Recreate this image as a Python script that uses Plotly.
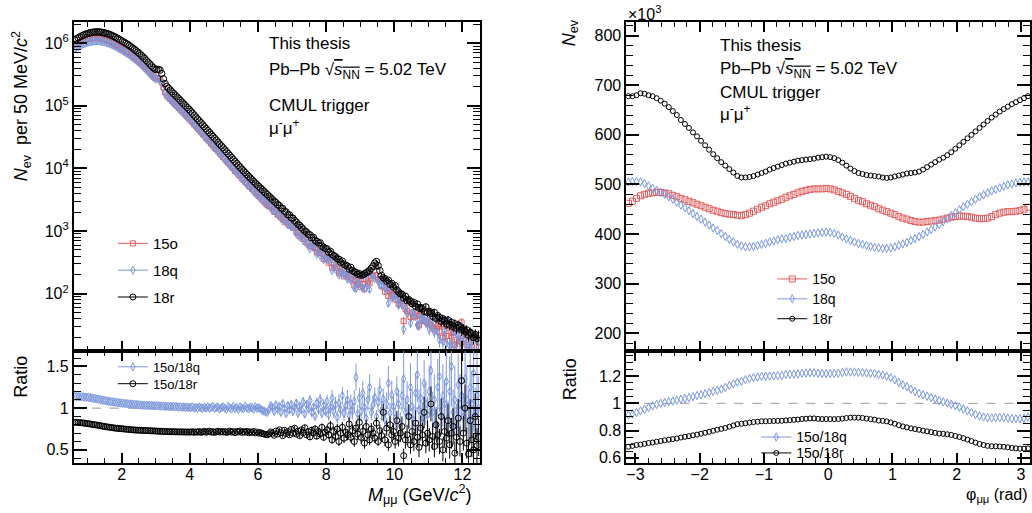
import numpy as np
import plotly.graph_objects as go

# ---------------- invariant mass (50 MeV/c2 bins, 0.6 - 12.5 GeV/c2) ----------------
n_mass_bins = 238
mass = np.round(0.625 + 0.05 * np.arange(n_mass_bins), 3)

# log10 of 18r counts per bin
n18r_log10 = [
    6.050, 6.068, 6.085, 6.100, 6.114, 6.127, 6.139, 6.149,
    6.158, 6.165, 6.171, 6.176, 6.179, 6.180, 6.179, 6.177, 6.173, 6.167,
    6.160, 6.152, 6.143, 6.132, 6.120, 6.107, 6.093, 6.078, 6.063, 6.047,
    6.031, 6.015, 5.998, 5.980, 5.961, 5.942, 5.922, 5.901, 5.879, 5.856,
    5.832, 5.807, 5.781, 5.754, 5.726, 5.697, 5.668, 5.638, 5.610, 5.588,
    5.578, 5.582, 5.570, 5.515, 5.430, 5.355, 5.310, 5.280, 5.252, 5.224,
    5.196, 5.168, 5.140, 5.113, 5.085, 5.057, 5.029, 5.001, 4.973, 4.945,
    4.914, 4.883, 4.852, 4.821, 4.790, 4.760, 4.729, 4.698, 4.667, 4.636,
    4.605, 4.575, 4.544, 4.513, 4.482, 4.452, 4.421, 4.390, 4.360, 4.330,
    4.298, 4.267, 4.236, 4.205, 4.174, 4.143, 4.112, 4.081, 4.050, 4.020,
    3.990, 3.961, 3.932, 3.903, 3.875, 3.847, 3.819, 3.792, 3.765, 3.738,
    3.712, 3.686, 3.660, 3.634, 3.608, 3.582, 3.556, 3.530, 3.504, 3.478,
    3.455, 3.421, 3.408, 3.368, 3.360, 3.318, 3.305, 3.262, 3.258, 3.214,
    3.205, 3.168, 3.142, 3.110, 3.090, 3.058, 3.030, 3.000, 2.985, 2.948,
    2.940, 2.895, 2.900, 2.852, 2.835, 2.810, 2.812, 2.760, 2.742, 2.725,
    2.715, 2.662, 2.675, 2.628, 2.605, 2.592, 2.560, 2.548, 2.505, 2.520,
    2.470, 2.455, 2.440, 2.395, 2.420, 2.368, 2.350, 2.340, 2.310, 2.320,
    2.295, 2.300, 2.318, 2.335, 2.350, 2.372, 2.405, 2.440, 2.490, 2.515,
    2.448, 2.370, 2.292, 2.255, 2.240, 2.200, 2.215, 2.150, 2.165, 2.110,
    2.130, 2.060, 2.030, 2.000, 1.990, 1.930, 1.960, 1.890, 1.905, 1.880,
    1.840, 1.860, 1.800, 1.835, 1.770, 1.780, 1.760, 1.720, 1.790, 1.700,
    1.720, 1.690, 1.640, 1.700, 1.610, 1.650, 1.620, 1.560, 1.600, 1.570,
    1.520, 1.580, 1.500, 1.540, 1.480, 1.520, 1.450, 1.500, 1.470, 1.420,
    1.440, 1.400, 1.420, 1.340, 1.380, 1.360, 1.300, 1.350, 1.290, 1.330,
]

# 15o / 18q ratio per bin
ratio_15o_18q = [
    1.140, 1.140, 1.138, 1.137, 1.136, 1.135, 1.133, 1.131,
    1.128, 1.125, 1.122, 1.118, 1.114, 1.110, 1.106, 1.102, 1.098, 1.094,
    1.090, 1.086, 1.082, 1.079, 1.076, 1.073, 1.070, 1.067, 1.064, 1.061,
    1.059, 1.057, 1.055, 1.053, 1.051, 1.049, 1.047, 1.045, 1.043, 1.041,
    1.039, 1.037, 1.036, 1.035, 1.034, 1.033, 1.032, 1.031, 1.030, 1.029,
    1.028, 1.027, 1.026, 1.025, 1.024, 1.023, 1.022, 1.021, 1.020, 1.019,
    1.022, 1.016, 1.018, 1.012, 1.016, 1.010, 1.014, 1.008, 1.012, 1.006,
    1.008, 1.015, 1.002, 1.010, 0.998, 1.012, 1.005, 0.995, 1.010, 1.003,
    1.015, 0.998, 1.006, 1.020, 0.995, 1.008, 1.012, 0.990, 1.005, 1.015,
    1.000, 0.985, 1.018, 1.005, 0.992, 1.020, 0.998, 1.010, 0.985, 1.015,
    1.002, 0.990, 1.025, 1.000, 0.993, 1.012, 1.005, 0.985, 1.020, 0.998,
    1.005, 0.990, 0.975, 0.965, 0.955, 0.950, 0.985, 1.030, 1.010, 0.960,
    1.040, 0.985, 1.020, 0.950, 1.055, 0.995, 0.935, 1.030, 0.980, 1.045,
    0.960, 1.010, 1.060, 0.940, 1.020, 0.985, 1.075, 0.930, 1.040, 0.995,
    1.090, 0.950, 1.010, 0.905, 1.060, 0.990, 1.100, 0.940, 1.030, 0.970,
    1.080, 0.920, 1.010, 1.120, 0.960, 1.040, 0.890, 1.060, 0.980, 1.150,
    0.940, 1.030, 1.100, 0.910, 1.050, 0.970, 1.080, 1.370, 0.930, 1.120,
    0.960, 1.180, 1.010, 0.880, 1.100, 1.250, 0.950, 1.040, 1.130, 0.900,
    1.070, 1.220, 0.970, 1.110, 0.860, 1.050, 1.300, 0.940, 1.160, 1.020,
    0.880, 1.200, 1.050, 0.820, 1.150, 1.350, 0.950, 1.100, 0.900, 1.250,
    1.020, 0.850, 1.180, 1.400, 0.980, 1.120, 0.880, 1.300, 1.050, 0.920,
    1.200, 1.450, 0.950, 1.100, 0.820, 1.250, 1.380, 0.900, 1.150, 1.050,
    1.320, 0.880, 1.200, 1.500, 0.950, 1.100, 0.800, 1.280, 1.050, 1.150,
    0.900, 1.350, 1.100, 0.850, 1.250, 1.050, 1.420, 0.950, 1.150, 1.000,
]

# 15o / 18r ratio per bin
ratio_15o_18r = [
    0.830, 0.829, 0.828, 0.826, 0.824, 0.822, 0.819, 0.816,
    0.813, 0.810, 0.806, 0.803, 0.800, 0.797, 0.793, 0.789, 0.785, 0.782,
    0.778, 0.775, 0.772, 0.769, 0.766, 0.763, 0.760, 0.758, 0.756, 0.754,
    0.752, 0.750, 0.748, 0.746, 0.744, 0.742, 0.740, 0.738, 0.737, 0.736,
    0.735, 0.734, 0.733, 0.732, 0.731, 0.730, 0.729, 0.728, 0.727, 0.726,
    0.725, 0.724, 0.723, 0.722, 0.721, 0.720, 0.719, 0.718, 0.718, 0.717,
    0.717, 0.716, 0.716, 0.715, 0.715, 0.715, 0.714, 0.714, 0.714, 0.713,
    0.713, 0.718, 0.710, 0.716, 0.712, 0.720, 0.709, 0.715, 0.722, 0.711,
    0.717, 0.725, 0.712, 0.718, 0.708, 0.716, 0.723, 0.712, 0.719, 0.714,
    0.720, 0.708, 0.716, 0.724, 0.711, 0.719, 0.706, 0.721, 0.714, 0.727,
    0.709, 0.718, 0.712, 0.722, 0.705, 0.716, 0.710, 0.720, 0.702, 0.714,
    0.700, 0.708, 0.695, 0.690, 0.685, 0.680, 0.692, 0.715, 0.700, 0.675,
    0.725, 0.690, 0.740, 0.705, 0.670, 0.735, 0.695, 0.720, 0.680, 0.745,
    0.700, 0.760, 0.690, 0.725, 0.670, 0.740, 0.705, 0.765, 0.680, 0.720,
    0.655, 0.735, 0.700, 0.750, 0.665, 0.720, 0.690, 0.770, 0.650, 0.710,
    0.740, 0.680, 0.790, 0.620, 0.720, 0.660, 0.750, 0.600, 0.700, 0.770,
    0.640, 0.710, 0.680, 0.810, 0.650, 0.730, 0.600, 0.760, 0.690, 0.830,
    0.650, 0.720, 0.580, 0.780, 0.680, 0.620, 0.750, 0.700, 0.640, 0.820,
    0.600, 0.730, 0.670, 0.950, 0.620, 0.760, 0.560, 0.800, 0.680, 0.720,
    0.600, 0.850, 0.640, 0.700, 0.780, 0.430, 0.620, 0.680, 0.900, 0.560,
    0.720, 0.600, 0.820, 0.650, 0.530, 0.760, 0.680, 0.950, 0.580, 0.700,
    0.620, 1.050, 0.660, 0.540, 0.800, 0.680, 0.600, 0.900, 0.500, 0.720,
    0.640, 0.850, 0.560, 0.700, 0.780, 0.460, 0.650, 0.880, 0.600, 1.330,
    0.700, 1.000, 0.580, 0.450, 0.850, 0.620, 0.500, 0.900, 0.550, 0.650,
]

# ---------------- azimuthal angle (100 bins over 2 pi), counts x10^3 ----------------
n_phi_bins = 100
phi = -np.pi + (np.arange(n_phi_bins) + 0.5) * 2 * np.pi / n_phi_bins

phi_15o = [
    462, 466, 472, 477, 480, 482, 483, 484, 484, 483,
    481, 478, 475, 472, 469, 466, 463, 460, 457, 454,
    451, 448, 446, 443, 441, 440, 439, 438, 437, 439,
    442, 446, 450, 454, 457, 461, 464, 467, 470, 474,
    477, 480, 483, 486, 488, 490, 491, 491, 491, 492,
    491, 489, 486, 483, 480, 476, 472, 468, 465, 461,
    458, 455, 451, 448, 445, 442, 439, 435, 432, 430,
    427, 425, 424, 424, 425, 426, 427, 428, 430, 432,
    434, 435, 436, 436, 435, 434, 432, 431, 431, 432,
    435, 439, 442, 444, 445, 445, 446, 447, 450, 454,
]
phi_18q = [
    505, 506, 506, 505, 502, 497, 492, 488, 484, 480,
    475, 470, 464, 458, 453, 447, 441, 435, 430, 424,
    418, 412, 407, 401, 395, 389, 384, 379, 376, 374,
    374, 375, 377, 379, 381, 384, 386, 388, 390, 391,
    393, 395, 397, 398, 399, 400, 401, 402, 403, 404,
    403, 401, 398, 394, 390, 387, 384, 381, 379, 377,
    375, 373, 372, 371, 371, 372, 374, 377, 380, 383,
    387, 391, 395, 399, 404, 409, 414, 419, 425, 431,
    437, 443, 449, 455, 460, 465, 470, 475, 479, 483,
    487, 490, 493, 496, 499, 501, 503, 504, 505, 505,
]
phi_18r = [
    678, 678, 680, 684, 683, 680, 678, 674, 669, 663,
    656, 648, 640, 630, 622, 614, 605, 597, 588, 579,
    570, 561, 553, 545, 538, 531, 524, 517, 514, 514,
    515, 517, 520, 523, 526, 530, 533, 536, 539, 542,
    544, 546, 548, 549, 550, 551, 552, 554, 555, 556,
    555, 553, 549, 544, 538, 532, 527, 523, 521, 519,
    518, 517, 516, 514, 513, 514, 516, 518, 520, 522,
    523, 524, 526, 530, 535, 540, 545, 550, 554, 559,
    565, 572, 579, 586, 593, 600, 607, 614, 621, 628,
    635, 641, 647, 652, 657, 662, 666, 670, 674, 678,
]

RED = "#e05a5a"
BLUE = "#7c98dc"
BLACK = "#000000"
FONT = "Liberation Sans, Arial, Helvetica, sans-serif"

# derived spectra and statistical errors
n18r = 10 ** np.array(n18r_log10)
n15o = np.array(ratio_15o_18r) * n18r
n18q = n15o / np.array(ratio_15o_18q)
err_rq = np.array(ratio_15o_18q) * np.sqrt(1 / n15o + 1 / n18q)
err_rr = np.array(ratio_15o_18r) * np.sqrt(1 / n15o + 1 / n18r)

W, H = 1032, 513
def fx(p):
    return p / W
def fy(p):
    return 1 - p / H

fig = go.Figure()
legends = {}


def add_series(x, y, name, col, sym, size, xa, ya, leg_pos, fsize, err=None):
    mk = dict(symbol=sym, size=size, color=col, line=dict(width=1, color=col))
    ey = None
    if err is not None:
        ey = dict(type="data", array=err, width=0, color=col, thickness=1)
    fig.add_trace(go.Scatter(x=x, y=y, mode="markers", showlegend=False,
                             xaxis=xa, yaxis=ya, marker=mk, error_y=ey))
    # one legend per entry so every row sits where the reference has it
    key = "legend" if not legends else f"legend{len(legends) + 1}"
    legends[key] = dict(x=fx(leg_pos[0]), y=fy(leg_pos[1]), xanchor="left",
                        yanchor="middle", bgcolor="rgba(0,0,0,0)",
                        font=dict(family=FONT, size=fsize), itemwidth=30)
    leg_mk = dict(mk, size=min(size, 6))
    fig.add_trace(go.Scatter(x=[None], y=[None], mode="lines+markers", name=name,
                             legend=key, xaxis=xa, yaxis=ya,
                             line=dict(color=col, width=1), marker=leg_mk))


# left top: mass spectra
add_series(mass, n15o, "15o", RED, "square-open", 5, "x", "y", (113, 245), 15, np.sqrt(n15o))
add_series(mass, n18q, "18q", BLUE, "diamond-tall-open", 6, "x", "y", (113, 272), 15, np.sqrt(n18q))
add_series(mass, n18r, "18r", BLACK, "circle-open", 6.5, "x", "y", (113, 299), 15, np.sqrt(n18r))

# left bottom: ratios
add_series(mass, ratio_15o_18q, "15o/18q", BLUE, "diamond-tall-open", 6, "x2", "y2", (113, 369), 13, err_rq)
add_series(mass, ratio_15o_18r, "15o/18r", BLACK, "circle-open", 6, "x2", "y2", (113, 386), 13, err_rr)

# right top: phi distributions
add_series(phi, phi_15o, "15o", RED, "square-open", 6, "x3", "y3", (773, 281), 14)
add_series(phi, phi_18q, "18q", BLUE, "diamond-tall-open", 6, "x3", "y3", (773, 301), 14)
add_series(phi, phi_18r, "18r", BLACK, "circle-open", 5, "x3", "y3", (773, 321), 14)

# right bottom: phi ratios
prq = np.array(phi_15o) / np.array(phi_18q)
prr = np.array(phi_15o) / np.array(phi_18r)
add_series(phi, prq, "15o/18q", BLUE, "diamond-tall-open", 6, "x4", "y4", (757, 440), 14)
add_series(phi, prr, "15o/18r", BLACK, "circle-open", 5, "x4", "y4", (757, 456), 14)

tickfont = dict(family=FONT, size=16, color="black")
base = dict(showline=True, linecolor="black", linewidth=2, mirror="allticks",
            ticks="inside", tickwidth=1.5, tickcolor="black",
            showgrid=False, zeroline=False, tickfont=tickfont)
xbase = dict(base, ticklen=10, ticklabelstandoff=-4)
ybase = dict(base, ticklen=13)
def minor(d, ln):
    return dict(ticks="inside", ticklen=ln, tickwidth=1.2, tickcolor="black",
                dtick=d, showgrid=False)

xl = [fx(74), fx(480)]
xr = [fx(627), fx(1031)]
ytop = [fy(353), fy(22)]
ybot = [fy(466), fy(353)]

log_minor = [k * 10 ** e for e in range(1, 7) for k in range(2, 10)]

fig.update_layout(
    width=W, height=H, margin=dict(l=0, r=0, t=0, b=0),
    paper_bgcolor="white", plot_bgcolor="white",
    font=dict(family=FONT, color="black"),
    xaxis=dict(xbase, domain=xl, anchor="y", range=[0.6, 12.5], tick0=0, dtick=2,
               minor=minor(0.5, 5), showticklabels=False),
    yaxis=dict(ybase, domain=ytop, anchor="x", type="log", range=[1.087, 6.34],
               tickmode="array", tickvals=[1e2, 1e3, 1e4, 1e5, 1e6],
               ticktext=["10<sup>2</sup>", "10<sup>3</sup>", "10<sup>4</sup>",
                         "10<sup>5</sup>", "10<sup>6</sup>"],
               minor=dict(ticks="inside", ticklen=7, tickwidth=1.2, tickcolor="black",
                          tickmode="array", tickvals=log_minor, showgrid=False)),
    xaxis2=dict(xbase, domain=xl, anchor="y2", range=[0.6, 12.5], tick0=0, dtick=2,
                minor=minor(0.5, 5)),
    yaxis2=dict(ybase, domain=ybot, anchor="x2", range=[0.339, 1.686], tick0=0,
                dtick=0.5, minor=minor(0.1, 7)),
    xaxis3=dict(xbase, domain=xr, anchor="y3", range=[-np.pi, np.pi], tick0=0, dtick=1,
                minor=minor(0.2, 5), showticklabels=False),
    yaxis3=dict(ybase, domain=ytop, anchor="x3", range=[164, 828], tick0=0, dtick=100,
                minor=minor(20, 7)),
    xaxis4=dict(xbase, domain=xr, anchor="y4", range=[-np.pi, np.pi], tick0=0, dtick=1,
                minor=minor(0.2, 5)),
    yaxis4=dict(ybase, domain=ybot, anchor="x4", range=[0.56, 1.385], tick0=0,
                dtick=0.2, minor=minor(0.05, 7)),
    **legends,
)

# dashed unity lines in ratio panels
for xa, ya in [("x2", "y2"), ("x4", "y4")]:
    fig.add_shape(type="line", xref=f"{xa} domain", x0=0, x1=1, yref=ya, y0=1, y1=1,
                  line=dict(color="#999999", width=1, dash="dash"), layer="below")

sqrt_s = "√<span style='text-decoration:overline'><i>s</i><sub>NN</sub></span>"
texts = [
    (267, 44, "This thesis"), (267, 71, f"Pb–Pb {sqrt_s} = 5.02 TeV"),
    (267, 106, "CMUL trigger"), (267, 128, "μ<sup>-</sup>μ<sup>+</sup>"),
    (719, 46, "This thesis"), (719, 70, f"Pb–Pb {sqrt_s} = 5.02 TeV"),
    (719, 93, "CMUL trigger"), (719, 114, "μ<sup>-</sup>μ<sup>+</sup>"),
]
for x, y, t in texts:
    fig.add_annotation(x=fx(x), y=fy(y), xref="paper", yref="paper", text=t,
                       showarrow=False, xanchor="left", yanchor="middle",
                       font=dict(family=FONT, size=17))

titles = [
    (21, 107, "<i>N</i><sub>ev</sub>  per 50 MeV/<i>c</i><sup>2</sup>", -90, "center", 18),
    (21, 379, "Ratio", -90, "center", 18),
    (571, 33, "<i>N</i><sub>ev</sub>", -90, "center", 18),
    (570, 381, "Ratio", -90, "center", 18),
    (474, 497, "<i>M</i><sub>μμ</sub> (GeV/<i>c</i><sup>2</sup>)", 0, "right", 18),
    (1031, 498, "φ<sub>μμ</sub> (rad)", 0, "right", 16),
    (627, 13, "×10<sup>3</sup>", 0, "left", 16),
]
for x, y, t, ang, anc, s in titles:
    fig.add_annotation(x=fx(x), y=fy(y), xref="paper", yref="paper", text=t,
                       showarrow=False, xanchor=anc, yanchor="middle", textangle=ang,
                       font=dict(family=FONT, size=s))

fig.write_html("out.html", config={"displayModeBar": False},
               post_script="document.body.style.margin='0';"
                           "document.body.style.overflow='hidden';")
